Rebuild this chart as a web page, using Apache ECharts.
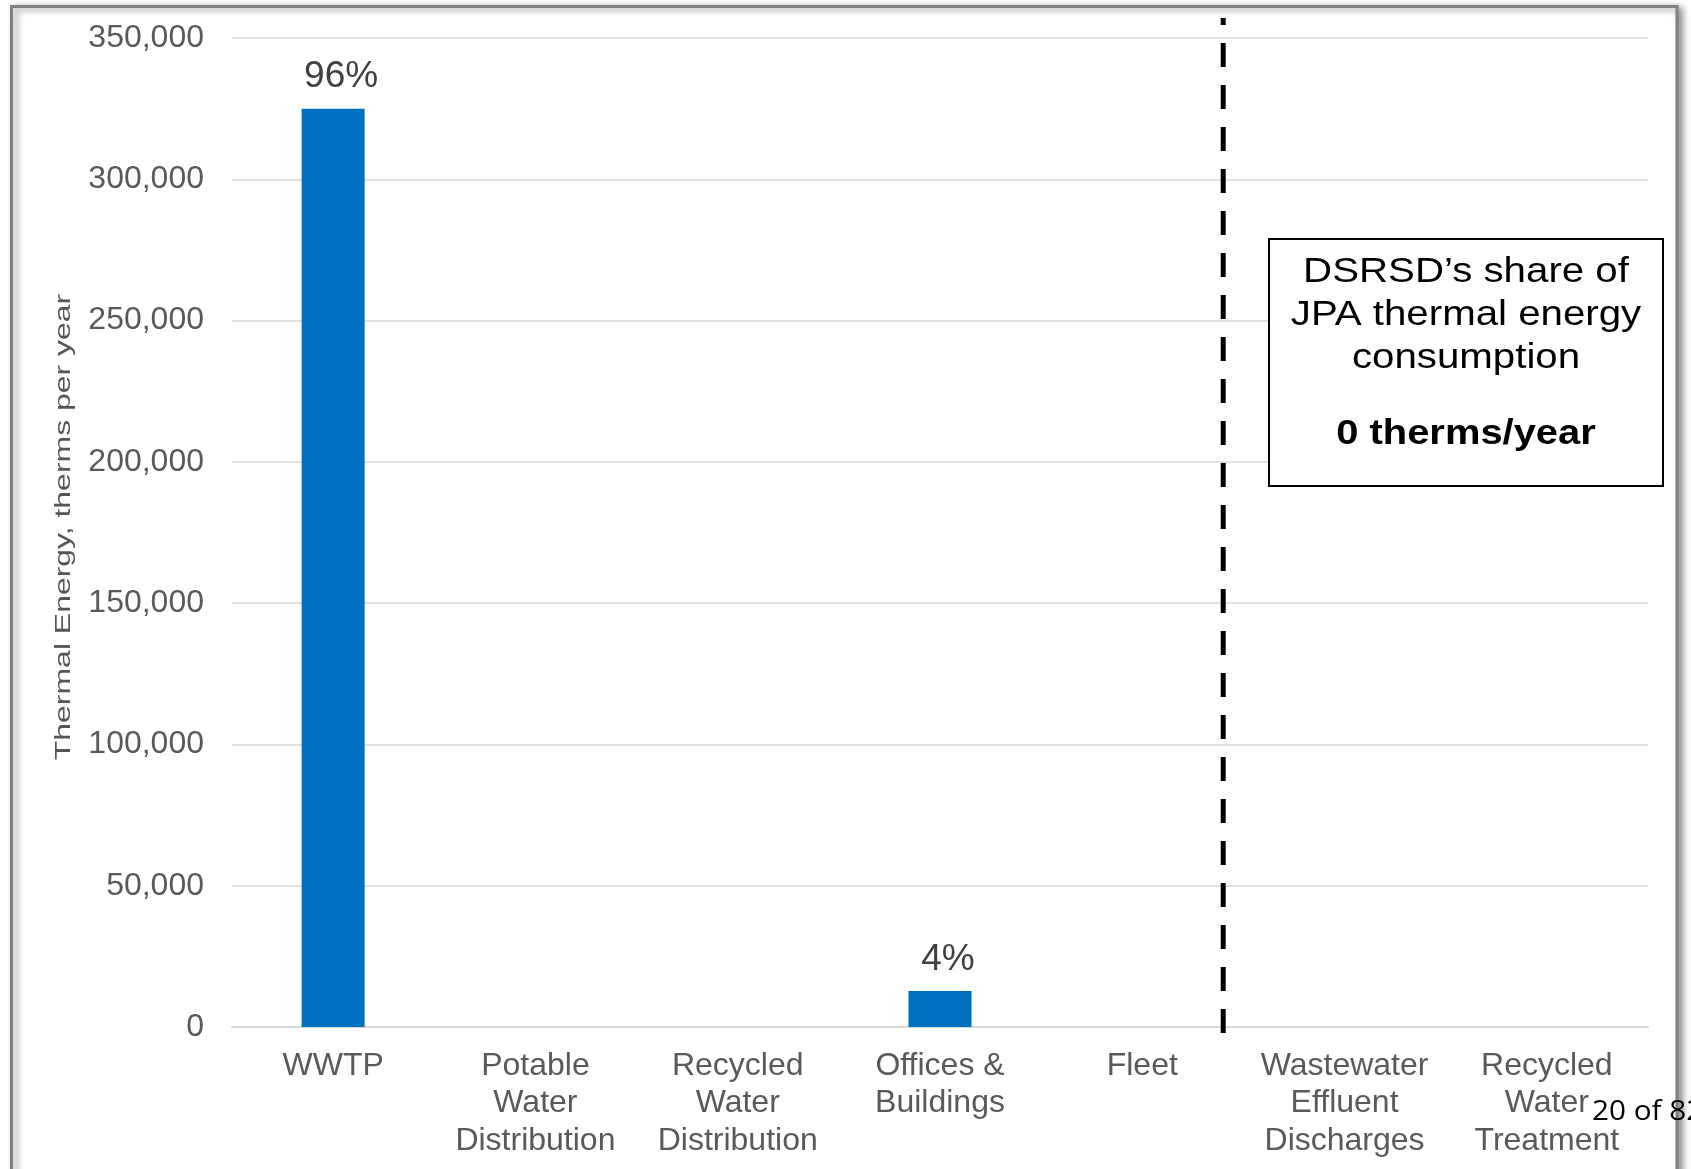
<!DOCTYPE html>
<html>
<head>
<meta charset="utf-8">
<script src="https://cdn.jsdelivr.net/npm/echarts@6/dist/echarts.min.js"></script>
<style>
  html, body { margin: 0; padding: 0; background: #ffffff; }
  #chart { width: 1691px; height: 1169px; }
</style>
</head>
<body>
<div id="chart"></div>
<script>
// Thermal energy use by DSRSD function (therms per year)
const categories = [
  'WWTP',
  'Potable\nWater\nDistribution',
  'Recycled\nWater\nDistribution',
  'Offices &\nBuildings',
  'Fleet',
  'Wastewater\nEffluent\nDischarges',
  'Recycled\nWater\nTreatment'
];
const thermsPerYear = [325000, 0, 0, 12700, 0, 0, 0];

// value axis ticks
const yMin = 0;
const yMax = 350000;
const yStep = 50000;

// dashed separator between DSRSD functions and JPA facilities (category units from left edge)
const dividerAt = 4.9;

// call-out text
const jpaShareLines = ['DSRSD\u2019s share of', 'JPA thermal energy', 'consumption'];
const jpaShareValue = '0 therms/year';
const yAxisTitle = 'Thermal Energy, therms per year';
const pageNote = '20 of 82';

const FONT = '"Liberation Sans", Arial, Helvetica, sans-serif';
const total = thermsPerYear.reduce((a, b) => a + b, 0);

const chart = echarts.init(document.getElementById('chart'), null, { renderer: 'canvas' });

const gridLeft = 232, gridRight = 43, gridTop = 38, gridBottom = 142;

const option = {
  animation: false,
  backgroundColor: '#ffffff',
  grid: [
    { left: gridLeft, right: gridRight, top: gridTop, bottom: gridBottom },
    { left: gridLeft, right: gridRight, top: 18, bottom: 136 }
  ],
  xAxis: [
    {
      type: 'category',
      gridIndex: 0,
      data: categories,
      axisLine: { show: true, lineStyle: { color: '#D9D9D9', width: 2 } },
      axisTick: { show: false },
      axisLabel: {
        interval: 0,
        margin: 20,
        color: '#595959',
        fontFamily: FONT,
        fontSize: 32,
        lineHeight: 37.5
      },
      splitLine: { show: false }
    },
    {
      type: 'value',
      gridIndex: 1,
      min: 0,
      max: categories.length,
      show: false
    }
  ],
  yAxis: [
    {
      type: 'value',
      gridIndex: 0,
      min: yMin,
      max: yMax,
      interval: yStep,
      axisLine: { show: false },
      axisTick: { show: false },
      axisLabel: {
        margin: 28,
        color: '#595959',
        fontFamily: FONT,
        fontSize: 32,
        formatter: v => v.toLocaleString('en-US')
      },
      splitLine: { show: true, lineStyle: { color: '#D9D9D9', width: 1.5 } }
    },
    {
      type: 'value',
      gridIndex: 1,
      min: 0,
      max: 1,
      show: false
    }
  ],
  series: [
    {
      type: 'bar',
      xAxisIndex: 0,
      yAxisIndex: 0,
      data: thermsPerYear,
      barWidth: 63,
      itemStyle: { color: '#0070C0' },
      label: {
        show: true,
        position: 'top',
        distance: 13,
        offset: [8, 0],
        color: '#404040',
        fontFamily: FONT,
        fontSize: 37,
        formatter: p => p.value > 0 ? Math.round(p.value / total * 100) + '%' : ''
      },
      z: 3
    },
    {
      type: 'line',
      xAxisIndex: 1,
      yAxisIndex: 1,
      data: [[dividerAt, 0], [dividerAt, 1]],
      symbol: 'none',
      silent: true,
      lineStyle: { color: '#000000', width: 5, type: [24, 18] },
      z: 4
    }
  ],
  graphic: [
    // page frame with soft shadow
    {
      type: 'rect',
      z: -10,
      shape: { x: 11.5, y: 6.5, width: 1665.5, height: 1200 },
      style: {
        fill: '#ffffff',
        stroke: '#808080',
        lineWidth: 3,
        shadowBlur: 7,
        shadowOffsetX: 4,
        shadowOffsetY: 2,
        shadowColor: 'rgba(0,0,0,0.45)'
      },
      silent: true
    },
    // rotated value-axis title
    {
      type: 'text',
      x: 64,
      y: 527,
      rotation: Math.PI / 2,
      scaleX: 1.42,
      style: {
        text: yAxisTitle,
        fill: '#555555',
        font: '22.5px ' + FONT,
        align: 'center',
        verticalAlign: 'middle'
      },
      silent: true
    },
    // call-out box
    {
      type: 'rect',
      z: 10,
      shape: { x: 1269, y: 239, width: 394, height: 247 },
      style: { fill: '#ffffff', stroke: '#000000', lineWidth: 2 },
      silent: true
    },
    ...jpaShareLines.map((t, i) => ({
      type: 'text',
      z: 11,
      x: 1466,
      y: 272.5 + i * 43,
      scaleX: 1.15,
      style: {
        text: t,
        fill: '#000000',
        font: '35px ' + FONT,
        align: 'center',
        verticalAlign: 'middle'
      },
      silent: true
    })),
    {
      type: 'text',
      z: 11,
      x: 1466,
      y: 434.5,
      scaleX: 1.14,
      style: {
        text: jpaShareValue,
        fill: '#000000',
        font: 'bold 35px ' + FONT,
        align: 'center',
        verticalAlign: 'middle'
      },
      silent: true
    },
    // page number
    {
      type: 'text',
      z: 20,
      x: 1592,
      y: 1112,
      scaleX: 1.1,
      style: {
        text: pageNote,
        fill: '#000000',
        font: '27px "Open Sans", "Noto Sans", sans-serif',
        align: 'left',
        verticalAlign: 'middle'
      },
      silent: true
    }
  ]
};

chart.setOption(option);
</script>
</body>
</html>
